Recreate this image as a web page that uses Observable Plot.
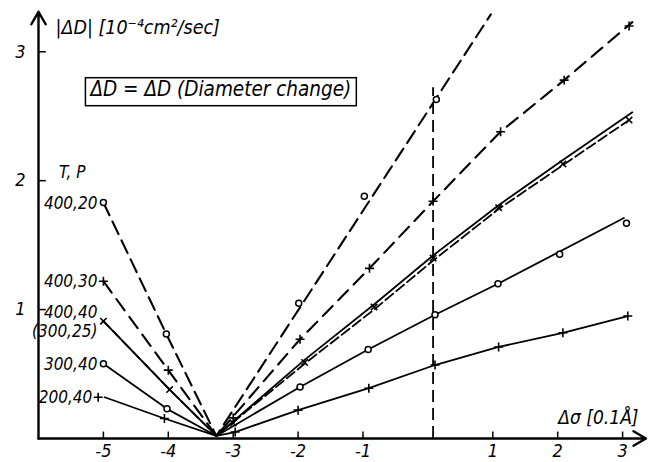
<!DOCTYPE html>
<html><head><meta charset="utf-8">
<script src="https://cdn.jsdelivr.net/npm/d3@7"></script>
<script src="https://cdn.jsdelivr.net/npm/@observablehq/plot@0.6"></script>
<style>
html,body{margin:0;padding:0;background:#fff;}
#chart{width:650px;height:462px;}
</style></head><body><div id="chart"></div>
<script>
// ---- axis ticks ----
const xTicks = [-5, -4, -3, -2, -1, 1, 2, 3];
const yTicks = [1, 2, 3];

// ---- common convergence point of all curves ----
const convX = -3.26, convY = 0.02;

// ---- dashed reference line at Δσ = 0 ----
const refX = [0.08];
const refTop = 2.72;

// ---- series 400,20 (circles, dashed) ----
const s40020_markX = [-5, -4.03, -1.99, -0.98, 0.13];
const s40020_markY = [1.83, 0.81, 1.05, 1.88, 2.63];
const s40020_lineX = [-5, -4.03, convX, 0.97];
const s40020_lineY = [1.83, 0.81, convY, 3.29];

// ---- series 400,30 (plus, dashed) ----
const s40030_markX = [-5, -4, -3.0, -1.97, -0.9, 0.08, 1.12, 2.1, 3.1];
const s40030_markY = [1.22, 0.53, 0.16, 0.77, 1.32, 1.84, 2.38, 2.78, 3.2];
const s40030_lineX = [-5, -4, convX, -1.97, -0.9, 0.08, 1.12, 2.1, 3.15];
const s40030_lineY = [1.22, 0.53, convY, 0.77, 1.32, 1.84, 2.38, 2.78, 3.23];

// ---- series 400,40 (times, dashed) ----
const s40040_markX = [-5, -3.98, -3.0, -1.9, -0.83, 0.08, 1.09, 2.08, 3.1];
const s40040_markY = [0.91, 0.38, 0.12, 0.59, 1.02, 1.40, 1.79, 2.13, 2.47];
const s40040_lineX = [-5, -3.98, convX, -1.9, -0.83, 0.08, 1.09, 2.08, 3.1];
const s40040_lineY = [0.91, 0.38, convY, 0.58, 1.0, 1.38, 1.78, 2.12, 2.47];

// ---- series (300,25) (solid, shares the 400,40 markers) ----
const s30025_lineX = [-5, -3.98, convX, -1.9, -0.83, 0.08, 1.09, 2.08, 3.15];
const s30025_lineY = [0.91, 0.38, convY, 0.61, 1.04, 1.42, 1.81, 2.16, 2.53];

// ---- series 300,40 (circles, solid) ----
const s30040_markX = [-5, -4.02, -1.97, -0.92, 0.11, 1.08, 2.03, 3.06];
const s30040_markY = [0.58, 0.23, 0.40, 0.69, 0.96, 1.20, 1.43, 1.67];
const s30040_lineX = [-5, -4.02, convX, -1.97, -0.92, 0.11, 1.08, 3.02];
const s30040_lineY = [0.58, 0.23, convY, 0.40, 0.69, 0.96, 1.20, 1.71];

// ---- series 200,40 (plus, solid) ----
const s20040_markX = [-5.08, -4.06, -2.97, -2.0, -0.91, 0.11, 1.09, 2.08, 3.08];
const s20040_markY = [0.32, 0.155, 0.05, 0.22, 0.39, 0.57, 0.71, 0.82, 0.95];
const s20040_lineX = [-4.98, -4.06, convX, -2.97, -2.0, -0.91, 0.11, 1.09, 2.08, 3.08];
const s20040_lineY = [0.32, 0.155, convY, 0.05, 0.22, 0.39, 0.57, 0.71, 0.82, 0.95];

// ---- texts ----
const titleText = "|ΔD| [10⁻⁴cm²/sec]";
const boxLabel = "ΔD = ΔD (Diameter change)";
const boxPos = {x: -5.2, y: 2.71};
const tpLabel = "T, P";
const tpPos = {x: -5.48, y: 2.06};
const xAxisTitle = "Δσ [0.1Å]";
const seriesLabels = ["400,20", "400,30", "400,40\n(300,25)", "300,40", "200,40"];

// ---- build tables ----
const zip = (xs, ys) => xs.map((x, i) => ({x, y: ys[i]}));
const lines = [
  {pts: zip(s40020_lineX, s40020_lineY), dash: "14,7", w: 2.1},
  {pts: zip(s40030_lineX, s40030_lineY), dash: "14,8", w: 2.1},
  {pts: zip(s40040_lineX, s40040_lineY), dash: "10,4", w: 1.8},
  {pts: zip(s30025_lineX, s30025_lineY), dash: null, w: 1.8},
  {pts: zip(s30040_lineX, s30040_lineY), dash: null, w: 1.8},
  {pts: zip(s20040_lineX, s20040_lineY), dash: null, w: 1.8}
];
const circles = [...zip(s40020_markX, s40020_markY), ...zip(s30040_markX, s30040_markY)];
const pluses = [...zip(s40030_markX, s40030_markY), ...zip(s20040_markX, s20040_markY)];
const timesPts = zip(s40040_markX, s40040_markY);
const labelRows = [
  {t: seriesLabels[0], x: s40020_markX[0], y: s40020_markY[0]},
  {t: seriesLabels[1], x: s40030_markX[0], y: s40030_markY[0]},
  {t: seriesLabels[2], x: s40040_markX[0], y: s40040_markY[0]},
  {t: seriesLabels[3], x: s30040_markX[0], y: s30040_markY[0]},
  {t: seriesLabels[4], x: s20040_markX[0], y: s20040_markY[0]}
];

const fmt = d => d < 0 ? "-" + Math.abs(d) : String(d);

const chart = Plot.plot({
  width: 650, height: 462,
  marginLeft: 38, marginRight: 0, marginTop: 10, marginBottom: 24,
  x: {domain: [-6, 3.43]},
  y: {domain: [0, 3.32]},
  style: {fontFamily: '"DejaVu Sans Condensed", "DejaVu Sans", sans-serif', fontStyle: "oblique", fontSize: "17px", background: "white", color: "black", overflow: "visible"},
  marks: [
    Plot.axisX({ticks: xTicks, tickSize: 0, tickPadding: 6, tickFormat: fmt, label: null, fontSize: 18}),
    Plot.axisY({ticks: yTicks, tickSize: 0, tickPadding: 13, tickFormat: d => String(d), label: null, fontSize: 18}),
    Plot.ruleX(xTicks, {x: d => d, y1: 0, y2: 0.05, strokeWidth: 1.5}),
    Plot.ruleY(yTicks, {y: d => d, x1: -6, x2: -5.88, strokeWidth: 1.5}),
    Plot.arrow([0], {x1: -6, y1: 0, x2: 3.36, y2: 0, headLength: 9, strokeWidth: 2.4}),
    Plot.arrow([0], {x1: -6, y1: 0, x2: -6, y2: 3.31, headLength: 9, strokeWidth: 2.4}),
    Plot.ruleX(refX, {x: d => d, y1: 0, y2: refTop, strokeWidth: 1.8, strokeDasharray: "12,6"}),
    ...lines.map(l => Plot.line(l.pts, {x: "x", y: "y", stroke: "black", strokeWidth: l.w, strokeDasharray: l.dash})),
    Plot.dot(circles, {x: "x", y: "y", symbol: "circle", r: 3, fill: "white", stroke: "black", strokeWidth: 1.5}),
    Plot.dot(pluses, {x: "x", y: "y", symbol: "plus", r: 3, stroke: "black", strokeWidth: 1.6}),
    Plot.dot(timesPts, {x: "x", y: "y", symbol: "times", r: 3, stroke: "black", strokeWidth: 1.6}),
    Plot.text(labelRows, {x: "x", y: "y", text: "t", textAnchor: "end", dx: -6, lineHeight: 1.1}),
    Plot.text([tpLabel], {x: tpPos.x, y: tpPos.y, text: d => d}),
    Plot.text([boxLabel], {x: boxPos.x, y: boxPos.y, text: d => d, textAnchor: "start", fontSize: 20.5}),
    Plot.text([titleText], {frameAnchor: "top-left", text: d => d, textAnchor: "start", lineAnchor: "top", dx: 17, dy: 10, fontSize: 19.5}),
    Plot.text([xAxisTitle], {frameAnchor: "bottom-right", text: d => d, textAnchor: "end", lineAnchor: "bottom", dx: -12, dy: -15, fontSize: 19})
  ]
});
document.getElementById("chart").append(chart);

// frame around the definition text
const svg = d3.select(chart);
const bt = svg.selectAll("text").filter(function() { return this.textContent === boxLabel; });
if (!bt.empty()) {
  const node = bt.node();
  const bb = node.getBBox();
  d3.select(node.parentNode).insert("rect", () => node)
    .attr("transform", node.getAttribute("transform"))
    .attr("x", bb.x - 3).attr("y", bb.y + 1)
    .attr("width", bb.width + 8).attr("height", bb.height + 4)
    .attr("fill", "none").attr("stroke", "black").attr("stroke-width", 1.5);
}
</script></body></html>
